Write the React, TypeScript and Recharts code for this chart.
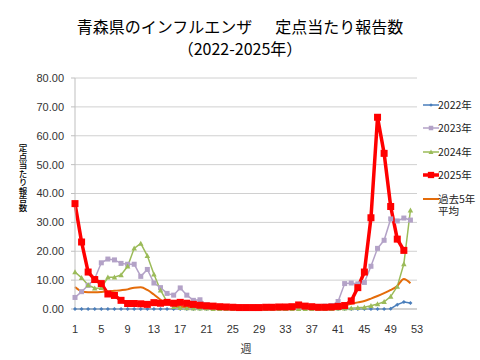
import { CartesianGrid, Legend, Line, LineChart, XAxis, YAxis } from "recharts";

const weeks = Array.from({ length: 53 }, (_, i) => i + 1);
const yTicks = [0, 10, 20, 30, 40, 50, 60, 70, 80];

const y2022 = [
  0, 0, 0, 0, 0, 0, 0, 0, 0, 0,
  0, 0, 0, 0, 0, 0, 0, 0, 0, 0,
  0, 0, 0, 0, 0, 0, 0, 0, 0, 0,
  0, 0, 0, 0, 0, 0, 0, 0, 0, 0,
  0, 0, 0, 0, 0, 0, 0, 0, 0.1, 1.5, 2.4, 2.1,
];
const y2023 = [
  4.0, 6.0, 8.2, 10.5, 16.0, 17.3, 17.0, 15.8, 15.5, 15.5,
  11.3, 13.7, 9.0, 7.4, 5.4, 4.8, 7.3, 4.8, 3.0, 3.2,
  1.5, 1.0, 0.8, 0.7, 0.6, 0.6, 0.5, 0.5, 0.5, 0.5,
  0.5, 0.5, 0.6, 0.6, 0.7, 0.8, 0.8, 0.9, 1.0, 1.2,
  2.6, 8.8, 9.0, 8.7, 9.2, 14.8, 21.0, 23.8, 31.2, 30.5, 31.5, 30.8,
];
const y2024 = [
  12.8, 10.8, 8.3, 7.2, 7.3, 11.0, 11.0, 11.8, 14.8, 21.0,
  22.7, 18.4, 12.0, 6.5, 2.5, 0.8, 0.4, 0.3, 0.2, 0.2,
  0.2, 0.1, 0.1, 0.1, 0.1, 0.1, 0.1, 0.1, 0.1, 0.1,
  0.1, 0.1, 0.1, 0.1, 0.1, 0.1, 0.1, 0.1, 0.1, 0.1,
  0.2, 0.2, 0.3, 0.4, 0.6, 1.1, 1.7, 2.5, 4.3, 7.8, 15.6, 34.2,
];
const y2025 = [
  36.5, 23.2, 12.8, 10.2, 8.8, 5.2, 4.7, 3.0, 1.9, 1.9,
  1.8, 1.6, 2.2, 2.0, 2.3, 2.0, 2.3, 2.0, 1.6, 1.3,
  1.1, 1.0, 0.8, 0.7, 0.6, 0.5, 0.5, 0.5, 0.5, 0.6,
  0.6, 0.7, 0.7, 0.8, 1.4, 1.0, 0.8, 0.6, 0.6, 0.7,
  0.9, 1.2, 2.8, 7.4, 12.8, 31.6, 66.4, 53.9, 35.5, 24.2, 20.3,
];
const avg5 = [
  7.6, 6.1, 5.8, 5.8, 5.9, 6.1, 6.3, 6.5, 6.8, 7.4,
  7.5, 6.6, 5.0, 3.2, 1.9, 1.2, 0.9, 0.7, 0.6, 0.5,
  0.5, 0.4, 0.4, 0.4, 0.4, 0.4, 0.4, 0.4, 0.4, 0.4,
  0.4, 0.4, 0.4, 0.4, 0.4, 0.4, 0.4, 0.5, 0.6, 0.7,
  0.9, 1.3, 1.8, 2.3, 2.8, 3.6, 4.5, 5.5, 6.6, 8.0, 10.4, 8.9,
];

const data = weeks.map((w, i) => ({
  week: w,
  y2022: y2022[i] ?? null,
  y2023: y2023[i] ?? null,
  y2024: y2024[i] ?? null,
  y2025: y2025[i] ?? null,
  avg5: avg5[i] ?? null,
}));

const BLUE = "#4a7ebb";
const LAVENDER = "#b3a2c7";
const GREEN = "#9bbb59";
const RED = "#ff0000";
const ORANGE = "#e46c0a";

type Shape = "diamond" | "square" | "triangle" | "none";

function marker(shape: Shape, size: number, color: string, cx: number, cy: number, key?: string) {
  const h = size / 2;
  if (shape === "square")
    return <rect key={key} x={cx - h} y={cy - h} width={size} height={size} fill={color} />;
  if (shape === "diamond")
    return (
      <polygon key={key} points={`${cx},${cy - h} ${cx + h},${cy} ${cx},${cy + h} ${cx - h},${cy}`} fill={color} />
    );
  if (shape === "triangle")
    return (
      <polygon key={key} points={`${cx},${cy - h} ${cx + h},${cy + h * 0.8} ${cx - h},${cy + h * 0.8}`} fill={color} />
    );
  return <g key={key} />;
}

const dotFor = (shape: Shape, size: number, color: string) => (p: any) => {
  const key = `d-${p.index}`;
  if (p.value == null || p.cy == null || Number.isNaN(p.cy)) return <g key={key} />;
  return marker(shape, size, color, p.cx, p.cy, key);
};

const series = [
  { key: "y2022", name: "2022年", color: BLUE, width: 1.5, shape: "diamond" as Shape, size: 4 },
  { key: "y2023", name: "2023年", color: LAVENDER, width: 1.5, shape: "square" as Shape, size: 5 },
  { key: "y2024", name: "2024年", color: GREEN, width: 1.5, shape: "triangle" as Shape, size: 5.5 },
  { key: "y2025", name: "2025年", color: RED, width: 3.5, shape: "square" as Shape, size: 7 },
  { key: "avg5", name: "過去5年平均", color: ORANGE, width: 2, shape: "none" as Shape, size: 0 },
];

const font = '"Liberation Sans", Arial, "Noto Sans CJK JP", sans-serif';
const jpFont = '"Noto Sans CJK JP", sans-serif';

function LegendBox() {
  return (
    <div style={{ fontFamily: jpFont, fontSize: 10.5, color: "#222" }}>
      {series.map((s) => (
        <div key={s.key} style={{ position: "relative", height: 23.5 }}>
          <svg width={18} height={10} style={{ position: "absolute", left: 4, top: 6.75 }}>
            <line x1={1} y1={5} x2={17} y2={5} stroke={s.color} strokeWidth={s.width} />
            {marker(s.shape, s.size * 0.9, s.color, 9, 5)}
          </svg>
          <div style={{ position: "absolute", left: 20, top: 5.75, width: 40, lineHeight: "12px" }}>
            {s.name}
          </div>
        </div>
      ))}
    </div>
  );
}

export default function App() {
  return (
    <div style={{ position: "absolute", left: 0, top: 0, width: 480, height: 360, background: "#fff" }}>
      <LineChart width={480} height={360} data={data} margin={{ top: 78, right: 63, bottom: 7, left: 30 }}>
        <CartesianGrid vertical={false} stroke="#d0d0d0" />
        <XAxis
          dataKey="week"
          interval={3}
          tickLine={false}
          tickMargin={10}
          height={44}
          axisLine={{ stroke: "#bfbfbf" }}
          tick={{ fontSize: 11, fill: "#333", fontFamily: font }}
          label={{ value: "週", position: "insideBottom", offset: 0, fontSize: 11, fill: "#333", fontFamily: jpFont }}
        />
        <YAxis
          domain={[0, 80]}
          ticks={yTicks}
          width={45}
          tickSize={4}
          tickMargin={7}
          tickFormatter={(v: number) => v.toFixed(2)}
          axisLine={{ stroke: "#bfbfbf" }}
          tickLine={{ stroke: "#bfbfbf" }}
          tick={{ fontSize: 11, fill: "#333", fontFamily: font }}
        />
        <Legend
          layout="vertical"
          align="center"
          verticalAlign="middle"
          wrapperStyle={{ left: 418, top: 93, width: 62 }}
          content={() => <LegendBox />}
        />
        {series.map((s) => (
          <Line
            key={s.key}
            dataKey={s.key}
            name={s.name}
            type={s.key === "avg5" ? "monotone" : "linear"}
            stroke={s.color}
            strokeWidth={s.width}
            dot={s.shape === "none" ? false : dotFor(s.shape, s.size, s.color)}
            activeDot={false}
            isAnimationActive={false}
          />
        ))}
      </LineChart>
      <div
        style={{
          position: "absolute",
          left: 0,
          top: 18,
          width: 480,
          textAlign: "center",
          fontFamily: jpFont,
          fontSize: 16,
          lineHeight: "17px",
          whiteSpace: "pre",
          color: "#000",
        }}
      >
        {"青森県のインフルエンザ　  定点当たり報告数"}
      </div>
      <div
        style={{
          position: "absolute",
          left: 0,
          top: 41,
          width: 480,
          textAlign: "center",
          fontFamily: jpFont,
          fontSize: 16,
          lineHeight: "15px",
          color: "#000",
        }}
      >
        （2022-2025年）
      </div>
      <div
        style={{
          position: "absolute",
          left: 17,
          top: 144,
          writingMode: "vertical-rl",
          textOrientation: "upright",
          fontFamily: jpFont,
          fontSize: 8.5,
          fontWeight: 500,
          lineHeight: "11px",
          color: "#000",
        }}
      >
        定点当たり報告数
      </div>
    </div>
  );
}
